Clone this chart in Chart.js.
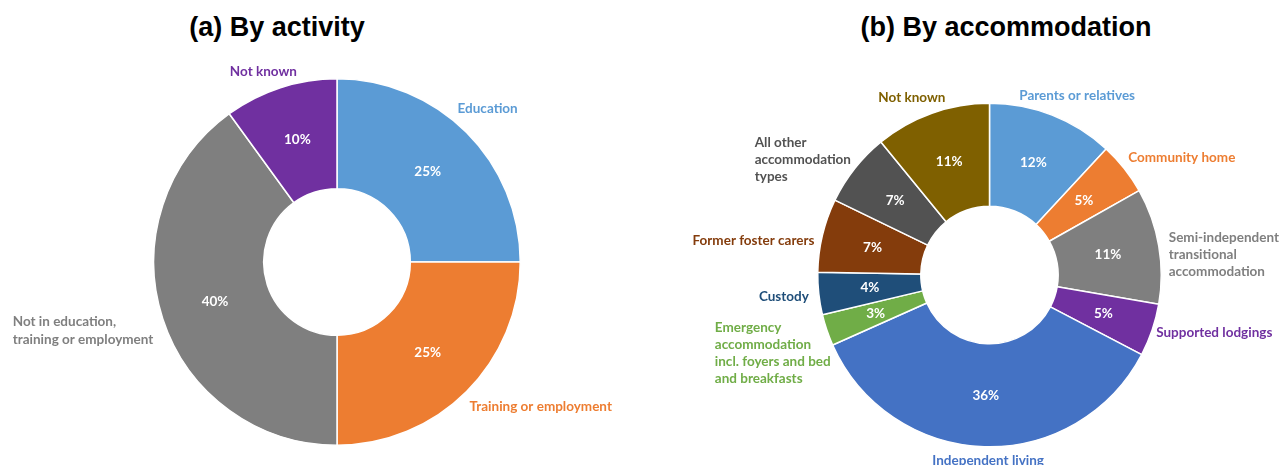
<!DOCTYPE html>
<html>
<head>
<meta charset="utf-8">
<script src="https://cdn.jsdelivr.net/npm/chart.js@4.4.1/dist/chart.umd.min.js"></script>
<style>
  html, body { margin: 0; padding: 0; background: #fff; }
  body { width: 1279px; height: 465px; position: relative; overflow: hidden; }
  .title {
    position: absolute; top: 12px; font-family: "Liberation Sans", Arial, sans-serif;
    font-weight: bold; font-size: 27px; line-height: 31px; color: #000; white-space: nowrap; transform: translateX(-50%);
  }
  .box { position: absolute; top: 0; height: 465px; }
</style>
</head>
<body>
<div class="title" style="left:277px">(a) By activity</div>
<div class="title" style="left:1006px">(b) By accommodation</div>
<div class="box" style="left:0; width:640px"><canvas id="by-activity"></canvas></div>
<div class="box" style="left:640px; width:639px"><canvas id="by-accommodation"></canvas></div>
<script>
// (a) activity
const activityLabels = ["Education", "Training or employment", "Not in education,\ntraining or employment", "Not known"];
const activityValues = [25, 25, 40, 10];
const activityColors = ["#5B9BD5", "#ED7D31", "#7F7F7F", "#7030A0"];

// (b) accommodation
const accomLabels = [
    "Parents or relatives", "Community home", "Semi-independent\ntransitional\naccommodation",
    "Supported lodgings", "Independent living",
    "Emergency\naccommodation\nincl. foyers and bed\nand breakfasts",
    "Custody", "Former foster carers", "All other\naccommodation\ntypes", "Not known"
];
const accomValues = [12, 5, 11, 5, 36, 3, 4, 7, 7, 11];
const accomColors = ["#5B9BD5", "#ED7D31", "#7F7F7F", "#7030A0", "#4472C4",
                     "#70AD47", "#1F4E79", "#843C0C", "#525252", "#7F6000"];

// where the outside labels sit, relative to the slice's outer mid point
const activityLabelPlace = [
    { align: "left", dx: -9, dy: -24 },
    { align: "left", dx: 3, dy: 15 },
    { align: "left", dx: -150, dy: 12 },
    { align: "center", dx: -17, dy: -16 }
];
const accomLabelPlace = [
    { align: "center", dx: 25, dy: -19 },
    { align: "left", dx: 4, dy: -11 },
    { align: "left", dx: 10, dy: 9 },
    { align: "left", dx: 4, dy: 3 },
    { align: "center", dx: 4, dy: 14 },
    { align: "left", dx: -112, dy: 23 },
    { align: "right", dx: -10, dy: 3 },
    { align: "right", dx: -8, dy: 5 },
    { align: "left", dx: -100, dy: -9 },
    { align: "center", dx: -20, dy: -16 }
];

const LABEL_FONT = '"Lato", "Open Sans", sans-serif';

// draws the % inside each slice and the coloured name outside it
const sliceLabels = {
    id: "sliceLabels",
    afterDatasetsDraw(chart, args, opts) {
        const ctx = chart.ctx;
        const meta = chart.getDatasetMeta(0);
        const values = chart.data.datasets[0].data;
        const colors = chart.data.datasets[0].backgroundColor;
        ctx.save();
        meta.data.forEach((arc, i) => {
            const p = arc.getProps(["x", "y", "startAngle", "endAngle", "innerRadius", "outerRadius"], true);
            const mid = (p.startAngle + p.endAngle) / 2;
            const rMid = (p.innerRadius + p.outerRadius) / 2;

            // percentage
            ctx.fillStyle = "#fff";
            ctx.font = "bold 13.5px " + LABEL_FONT;
            ctx.textAlign = "center";
            ctx.textBaseline = "middle";
            ctx.fillText(values[i] + "%", p.x + Math.cos(mid) * rMid, p.y + Math.sin(mid) * rMid);

            // category name
            const place = opts.place[i];
            const ax = p.x + Math.cos(mid) * p.outerRadius + place.dx;
            const ay = p.y + Math.sin(mid) * p.outerRadius + place.dy;
            const lines = chart.data.labels[i].split("\n");
            const lh = 17.3;
            ctx.fillStyle = colors[i];
            ctx.font = "bold 13.5px " + LABEL_FONT;
            ctx.textAlign = place.align;
            lines.forEach((line, k) => {
                ctx.fillText(line, ax, ay + (k - (lines.length - 1) / 2) * lh);
            });
        });
        ctx.restore();
    }
};

function makeDoughnut(id, labels, values, colors, place, padding) {
    return new Chart(id, {
        type: "doughnut",
        data: {
            labels: labels,
            datasets: [{
                data: values,
                backgroundColor: colors,
                borderColor: "#fff",
                borderWidth: 1.5
            }]
        },
        options: {
            responsive: true,
            maintainAspectRatio: false,
            animation: false,
            cutout: "40%",
            layout: { padding: padding },
            plugins: {
                legend: { display: false },
                tooltip: { enabled: false },
                sliceLabels: { place: place }
            }
        },
        plugins: [sliceLabels]
    });
}

makeDoughnut("by-activity", activityLabels, activityValues, activityColors, activityLabelPlace,
    { left: 153, right: 119, top: 78, bottom: 19 });
makeDoughnut("by-accommodation", accomLabels, accomValues, accomColors, accomLabelPlace,
    { left: 177, right: 117, top: 102, bottom: 17 });
</script>
</body>
</html>
